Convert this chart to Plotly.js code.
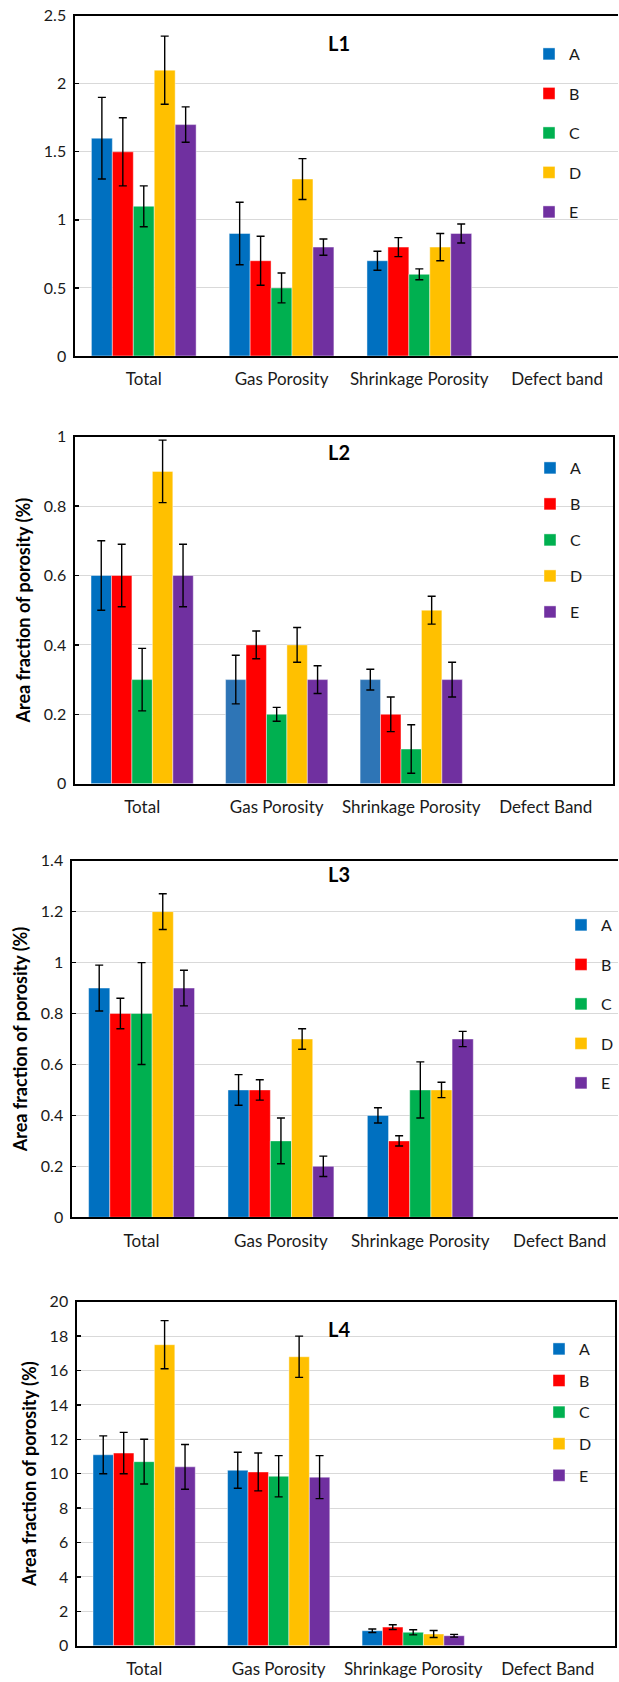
<!DOCTYPE html>
<html>
<head>
<meta charset="utf-8">
<script src="https://cdn.plot.ly/plotly-3.0.1.min.js"></script>
<style>html,body{margin:0;padding:0;background:#fff;}#chart{width:619px;height:1682px;}</style>
</head>
<body>
<div id="chart"></div>
<script>
// ---------- data ----------
const seriesNames = ['A', 'B', 'C', 'D', 'E'];
const seriesColors = ['#0070C0', '#FF0000', '#00B050', '#FFC000', '#7030A0'];
const catsL1 = ['Total', 'Gas Porosity', 'Shrinkage Porosity', 'Defect band'];
const catsL = ['Total', 'Gas Porosity', 'Shrinkage Porosity', 'Defect Band'];
const panelTitles = ['L1', 'L2', 'L3', 'L4'];

// values per series over [Total, Gas Porosity, Shrinkage Porosity]
const L1_A = [1.6, 0.9, 0.7],   L1_A_err = [0.3, 0.23, 0.07];
const L1_B = [1.5, 0.7, 0.8],   L1_B_err = [0.25, 0.18, 0.07];
const L1_C = [1.1, 0.5, 0.6],   L1_C_err = [0.15, 0.11, 0.04];
const L1_D = [2.1, 1.3, 0.8],   L1_D_err = [0.25, 0.15, 0.1];
const L1_E = [1.7, 0.8, 0.9],   L1_E_err = [0.13, 0.06, 0.07];

const L2_A = [0.6, 0.3, 0.3],   L2_A_err = [0.1, 0.07, 0.03];
const L2_B = [0.6, 0.4, 0.2],   L2_B_err = [0.09, 0.04, 0.05];
const L2_C = [0.3, 0.2, 0.1],   L2_C_err = [0.09, 0.02, 0.07];
const L2_D = [0.9, 0.4, 0.5],   L2_D_err = [0.09, 0.05, 0.04];
const L2_E = [0.6, 0.3, 0.3],   L2_E_err = [0.09, 0.04, 0.05];

const L3_A = [0.9, 0.5, 0.4],   L3_A_err = [0.09, 0.06, 0.03];
const L3_B = [0.8, 0.5, 0.3],   L3_B_err = [0.06, 0.04, 0.02];
const L3_C = [0.8, 0.3, 0.5],   L3_C_err = [0.2, 0.09, 0.11];
const L3_D = [1.2, 0.7, 0.5],   L3_D_err = [0.07, 0.04, 0.03];
const L3_E = [0.9, 0.2, 0.7],   L3_E_err = [0.07, 0.04, 0.03];

const L4_A = [11.1, 10.2, 0.87], L4_A_err = [1.1, 1.05, 0.1];
const L4_B = [11.2, 10.1, 1.08], L4_B_err = [1.2, 1.1, 0.14];
const L4_C = [10.7, 9.85, 0.78], L4_C_err = [1.3, 1.2, 0.15];
const L4_D = [17.5, 16.8, 0.68], L4_D_err = [1.4, 1.2, 0.2];
const L4_E = [10.4, 9.8, 0.58],  L4_E_err = [1.3, 1.25, 0.08];

const yRanges = [[0, 2.5], [0, 1], [0, 1.4], [0, 20]];
const yDticks = [0.5, 0.2, 0.2, 2];

// ---------- build ----------
const panels = [
  {cats: catsL1, vals: [L1_A, L1_B, L1_C, L1_D, L1_E], errs: [L1_A_err, L1_B_err, L1_C_err, L1_D_err, L1_E_err]},
  {cats: catsL,  vals: [L2_A, L2_B, L2_C, L2_D, L2_E], errs: [L2_A_err, L2_B_err, L2_C_err, L2_D_err, L2_E_err]},
  {cats: catsL,  vals: [L3_A, L3_B, L3_C, L3_D, L3_E], errs: [L3_A_err, L3_B_err, L3_C_err, L3_D_err, L3_E_err]},
  {cats: catsL,  vals: [L4_A, L4_B, L4_C, L4_D, L4_E], errs: [L4_A_err, L4_B_err, L4_C_err, L4_D_err, L4_E_err]}
];

const W = 619, H = 1682;
// layout geometry in pixels
const geo = [
  {left: 75, right: 619, top: 15.7,  bottom: 356,    spacing: 138,   border: false, yTitle: false, legX: 529, legY: 37,   gap: 15.7, titleY: 43},
  {left: 75, right: 614, top: 436.7, bottom: 783.7,  spacing: null,  border: true,  yTitle: true,  legX: 530, legY: 451,  gap: 12.2, titleY: 452},
  {left: 72, right: 619, top: 860.7, bottom: 1217.3, spacing: 139.6, border: false, yTitle: true,  legX: 562, legY: 908,  gap: 15.7, titleY: 874},
  {left: 77, right: 616, top: 1301.7, bottom: 1645.7, spacing: null, border: true,  yTitle: true,  legX: 539, legY: 1332, gap: 7.8,  titleY: 1329}
];

const FAM = 'Lato, "Open Sans", sans-serif';
const yTickFont = {family: FAM, size: 16, color: '#1a1a1a'};
const xTickFont = {family: FAM, size: 17, color: '#1a1a1a'};
const traces = [];
const layout = {
  width: W, height: H,
  margin: {l: 0, r: 0, t: 0, b: 0},
  paper_bgcolor: '#ffffff', plot_bgcolor: '#ffffff',
  barmode: 'group', bargap: 0.24, bargroupgap: 0,
  showlegend: true,
  font: {family: FAM, color: '#1a1a1a'},
  annotations: []
};

panels.forEach((p, i) => {
  const g = geo[i];
  const n = i + 1;
  const sfx = n === 1 ? '' : String(n);
  const legName = 'legend' + sfx;
  p.vals.forEach((v, s) => {
    let color = seriesColors[s];
    if (i === 1 && s === 0) color = ['#0070C0', '#2E75B6', '#2E75B6'];
    traces.push({
      type: 'bar',
      name: seriesNames[s],
      x: p.cats.slice(0, 3),
      y: v,
      xaxis: 'x' + sfx,
      yaxis: 'y' + sfx,
      legend: legName,
      legendgroup: 'p' + n + seriesNames[s],
      marker: {color: color, line: {color: 'rgba(255,255,255,0.55)', width: 0.8}},
      error_y: {type: 'data', array: p.errs[s], visible: true, color: '#000000', thickness: 1.4, width: 4},
      hoverinfo: 'x+y+name'
    });
  });
  const x0 = g.left / W, x1 = g.right / W;
  const range = g.spacing ? [-0.5, -0.5 + (g.right - g.left) / g.spacing] : [-0.5, 3.5];
  layout['xaxis' + sfx] = {
    domain: [x0, x1],
    anchor: 'y' + sfx,
    type: 'category',
    categoryorder: 'array', categoryarray: p.cats,
    tickvals: p.cats, ticktext: p.cats,
    range: range,
    showline: true, linecolor: '#000000', linewidth: 2,
    mirror: true,
    showgrid: false, ticks: '', zeroline: false,
    tickfont: xTickFont,
    ticklabelstandoff: 7,
    fixedrange: true
  };
  layout['yaxis' + sfx] = {
    domain: [1 - g.bottom / H, 1 - g.top / H],
    anchor: 'x' + sfx,
    range: yRanges[i], dtick: yDticks[i], tick0: 0,
    showline: true, linecolor: '#000000', linewidth: 1.5,
    mirror: g.border,
    showgrid: true, gridcolor: '#D9D9D9', gridwidth: 1,
    zeroline: false,
    ticks: 'inside', ticklen: 4, tickwidth: 1.3, tickcolor: '#000000',
    tickfont: yTickFont,
    ticklabelstandoff: 4,
    fixedrange: true
  };
  if (g.yTitle) {
    layout['yaxis' + sfx].title = {text: '<b>Area fraction of porosity (%)</b>', font: {family: FAM, size: 18, color: '#000000'}, standoff: 8};
  }
  layout[legName] = {
    x: g.legX / W, xanchor: 'left', xref: 'paper',
    y: 1 - g.legY / H, yanchor: 'top', yref: 'paper',
    bgcolor: 'rgba(0,0,0,0)', borderwidth: 0,
    font: {family: FAM, size: 16, color: '#1a1a1a'},
    traceorder: 'grouped', tracegroupgap: g.gap,
    itemwidth: 30
  };
  layout.annotations.push({
    text: '<b>' + panelTitles[i] + '</b>',
    x: 340 / W, y: 1 - g.titleY / H, xref: 'paper', yref: 'paper',
    xanchor: 'center', yanchor: 'middle', showarrow: false,
    font: {family: FAM, size: 20, color: '#000000'}
  });
});

Plotly.newPlot('chart', traces, layout, {displayModeBar: false, staticPlot: true});
</script>
</body>
</html>
